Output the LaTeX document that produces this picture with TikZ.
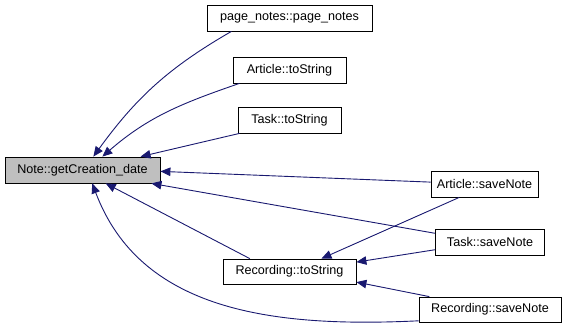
\documentclass[tikz,border=0pt]{standalone}
\usepackage{fontspec}
\setmainfont{Liberation Sans}
\usetikzlibrary{arrows.meta}
\definecolor{callblue}{HTML}{191970}
\definecolor{hilite}{HTML}{BFBFBF}

\begin{document}
\begin{tikzpicture}[x=1pt, y=1pt]
	\tikzset{>={Triangle[length=10pt,width=8.5pt]}}
	\tikzset{fn/.style={draw, line width=0.8pt, fill=white, minimum height=26pt, inner sep=0pt, font=\fontsize{12.6}{14}\selectfont},
		call/.style={->, draw=callblue, line width=0.9pt}}
	\useasboundingbox (0,0) rectangle (567,-329);

	\node[fn, fill=hilite, minimum width=155pt] (note) at (82.5,-170) {Note::getCreation\_date};

	\node[fn, minimum width=165pt] (pagenotes) at (289.5,-18) {page\_notes::page\_notes};
	\node[fn, minimum width=113pt] (articletostring) at (289.5,-70) {Article::toString};
	\node[fn, minimum width=103pt] (tasktostring) at (289.5,-120) {Task::toString};
	\node[fn, minimum width=133pt, minimum height=25pt] (recordingtostring) at (289.5,-271.5) {Recording::toString};

	\node[fn, minimum width=107pt] (articlesavenote) at (484.5,-184) {Article::saveNote};
	\node[fn, minimum width=109pt] (tasksavenote) at (490,-242) {Task::saveNote};
	\node[fn, minimum width=142pt, minimum height=25pt] (recordingsavenote) at (490,-309.5) {Recording::saveNote};

	% callers of getCreation_date
	\draw[call] (pagenotes.-167) to[out=210, in=54] (note.51);
	\draw[call] (articletostring.-165) to[out=199, in=41] (note.34);
	\draw[call] (tasktostring.-165) -- (note.13);
	\draw[call] (articlesavenote.178) -- (note.-1);
	\draw[call] (tasksavenote.171) -- (note.-11);
	\draw[call] (recordingtostring.162) -- (note.-30);
	\draw[call] (recordingsavenote.-171) .. controls (270,-328) and (140,-310) .. (note.-54);

	% callers of Recording::toString
	\draw[call] (articlesavenote.-152) -- (recordingtostring.22);
	\draw[call] (tasksavenote.-172) -- (recordingtostring.8);
	\draw[call] (recordingsavenote.168) -- (recordingtostring.-9);
\end{tikzpicture}
\end{document}
